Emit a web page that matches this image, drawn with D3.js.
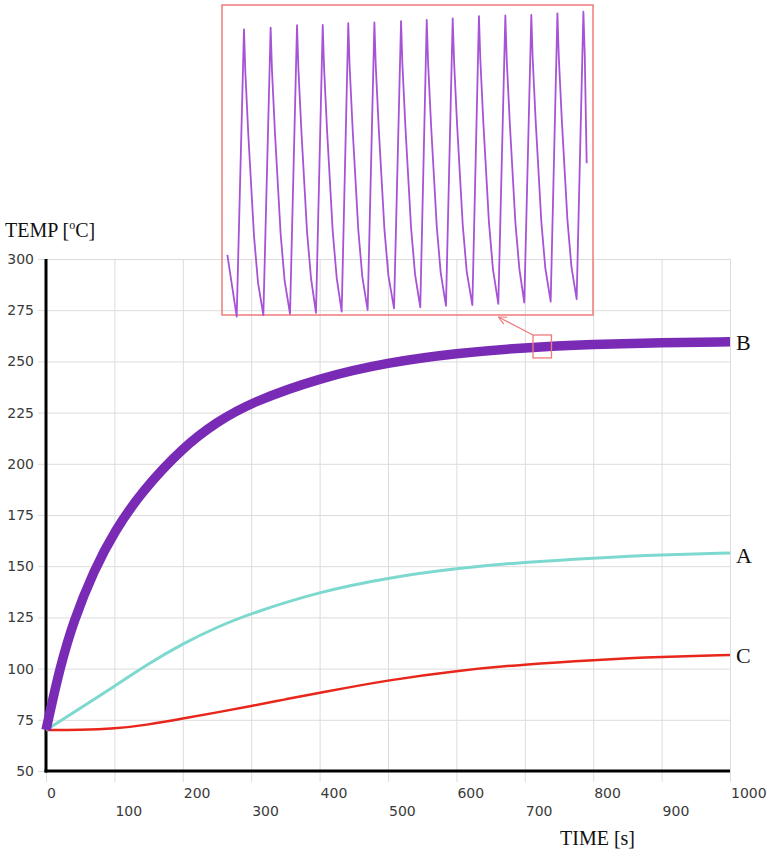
<!DOCTYPE html>
<html>
<head>
<meta charset="utf-8">
<script src="https://cdn.jsdelivr.net/npm/d3@7"></script>
<style>
  html, body { margin: 0; padding: 0; background: #fff; }
  svg { display: block; }
</style>
</head>
<body>
<svg id="chart" width="769" height="854"></svg>
<script>
// Heating curves: temperature [°C] against time [s]
const timeB = [0, 5, 20, 40, 70, 100, 140, 200, 250, 300, 400, 500, 600, 700, 800, 900, 1000];
const tempB = [70, 77.5, 100, 123, 148, 167, 186.5, 208, 220.5, 230, 242, 249.5, 254, 256.8, 258.3, 259.2, 259.6];

const timeA = [0, 50, 100, 150, 200, 250, 300, 400, 500, 600, 700, 800, 900, 1000];
const tempA = [70, 80.6, 91.4, 102.4, 112.2, 120.3, 127, 137.6, 144.4, 149, 152, 154, 155.6, 156.4];

const timeC = [0, 50, 100, 150, 200, 250, 300, 350, 400, 500, 600, 700, 800, 900, 1000];
const tempC = [70, 70, 70.6, 72.6, 75.6, 78.6, 81.7, 85, 88.2, 94.4, 99, 102.1, 104.2, 105.8, 106.6];

const seriesNames = ["A", "B", "C"];

// Magnified window on curve B: the on/off oscillation of the heater
const zoomTime = [712, 739];
const zoomTemp = [251.7, 262.9];
const insetTime = [
  712.39, 713.07,
  713.60, 713.70, 713.92, 714.33, 714.62, 715.01,
  715.54, 715.64, 715.86, 716.27, 716.56, 716.95,
  717.46, 717.56, 717.78, 718.19, 718.48, 718.84,
  719.33, 719.43, 719.65, 720.06, 720.35, 720.71,
  721.19, 721.29, 721.51, 721.92, 722.21, 722.60,
  723.09, 723.19, 723.41, 723.82, 724.11, 724.52,
  725.03, 725.13, 725.35, 725.76, 726.05, 726.43,
  726.90, 727.00, 727.22, 727.63, 727.92, 728.30,
  728.79, 728.89, 729.11, 729.52, 729.81, 730.22,
  730.70, 730.80, 731.02, 731.43, 731.72, 732.11,
  732.62, 732.72, 732.94, 733.35, 733.64, 734.00,
  734.51, 734.61, 734.83, 735.24, 735.53, 735.92,
  736.41, 736.51, 736.73, 737.14, 737.43, 737.81,
  738.30, 738.40, 738.54];
const insetTemp = [
  253.87, 251.64,
  262.02, 260.45, 258.17, 254.55, 252.87, 251.70,
  262.08, 260.51, 258.23, 254.61, 252.93, 251.74,
  262.17, 260.60, 258.32, 254.70, 253.02, 251.78,
  262.18, 260.61, 258.33, 254.71, 253.03, 251.82,
  262.24, 260.67, 258.39, 254.77, 253.09, 251.88,
  262.27, 260.70, 258.42, 254.80, 253.12, 251.94,
  262.32, 260.75, 258.47, 254.85, 253.17, 251.98,
  262.36, 260.79, 258.51, 254.89, 253.21, 252.03,
  262.42, 260.85, 258.57, 254.95, 253.27, 252.06,
  262.50, 260.93, 258.65, 255.03, 253.35, 252.10,
  262.52, 260.95, 258.67, 255.05, 253.37, 252.15,
  262.54, 260.97, 258.69, 255.07, 253.39, 252.18,
  262.60, 261.03, 258.75, 255.13, 253.45, 252.27,
  262.66, 261.09, 257.18];

const xTicks = [0, 100, 200, 300, 400, 500, 600, 700, 800, 900, 1000];
const yTicks = [50, 75, 100, 125, 150, 175, 200, 225, 250, 275, 300];

const svg = d3.select("#chart");

const x = d3.scaleLinear().domain([0, 1000]).range([46, 730]);
const y = d3.scaleLinear().domain([50, 300]).range([771, 259]);

const tickFont = "'DejaVu Sans', Verdana, sans-serif";
const serif = "'Liberation Serif', 'Times New Roman', serif";

// grid
const gridV = svg.append("g")
  .attr("transform", `translate(0,${y(50) + 11})`)
  .call(d3.axisBottom(x).tickValues(xTicks).tickSize(-(y(50) + 11 - y(300))).tickFormat(""));
const gridH = svg.append("g")
  .attr("transform", `translate(${x(0) - 8},0)`)
  .call(d3.axisLeft(y).tickValues(yTicks).tickSize(-(x(1000) - x(0) + 8)).tickFormat(""));
[gridV, gridH].forEach(g => {
  g.select(".domain").remove();
  g.selectAll("line").attr("stroke", "#dcdcdc").attr("stroke-width", 1);
});

// tick labels
svg.append("g").selectAll("text")
  .data(yTicks).join("text")
  .attr("x", 34).attr("y", d => y(d)).attr("dy", "0.36em")
  .attr("text-anchor", "end")
  .attr("font-family", tickFont).attr("font-size", 14).attr("fill", "#3a3a3a")
  .text(d => d);

svg.append("g").selectAll("text")
  .data(xTicks).join("text")
  .attr("x", d => x(d) + 1)
  .attr("y", (d, i) => i % 2 === 0 ? 798 : 816)
  .attr("text-anchor", "start")
  .attr("font-family", tickFont).attr("font-size", 14).attr("fill", "#3a3a3a")
  .text(d => d);

// axes
svg.append("line")
  .attr("x1", x(0)).attr("x2", x(0)).attr("y1", y(300)).attr("y2", y(50) + 1.5)
  .attr("stroke", "#000").attr("stroke-width", 3);
svg.append("line")
  .attr("x1", x(0) - 1.5).attr("x2", x(1000)).attr("y1", y(50)).attr("y2", y(50))
  .attr("stroke", "#000").attr("stroke-width", 3);

// axis titles
const yTitle = svg.append("text")
  .attr("x", 5).attr("y", 237)
  .attr("font-family", serif).attr("font-size", 20).attr("fill", "#111");
yTitle.append("tspan").text("TEMP [");
yTitle.append("tspan").attr("font-size", 12).attr("dy", -8).text("o");
yTitle.append("tspan").attr("dy", 8).text("C]");

svg.append("text")
  .attr("x", 560).attr("y", 845)
  .attr("font-family", serif).attr("font-size", 20).attr("fill", "#111")
  .text("TIME [s]");

// curves
const line = d3.line().x(d => x(d[0])).y(d => y(d[1])).curve(d3.curveBasis);
const zip = (a, b) => a.map((v, i) => [v, b[i]]);

const curves = [
  { name: "C", pts: zip(timeC, tempC), color: "#e8261b", width: 2.5 },
  { name: "A", pts: zip(timeA, tempA), color: "#7dd9cf", width: 3 },
  { name: "B", pts: zip(timeB, tempB), color: "#7a2bb6", width: 9.5 }
];

curves.forEach(c => {
  svg.append("path")
    .attr("d", line(c.pts))
    .attr("fill", "none")
    .attr("stroke", c.color)
    .attr("stroke-width", c.width)
    .attr("stroke-linejoin", "round");
});

// series labels at the line ends
const labelDy = { A: 10, B: 8, C: 8 };
curves.forEach(c => {
  const last = c.pts[c.pts.length - 1];
  svg.append("text")
    .attr("x", x(last[0]) + 6)
    .attr("y", y(last[1]) + labelDy[c.name])
    .attr("font-family", serif).attr("font-size", 22).attr("fill", "#111")
    .text(seriesNames[seriesNames.indexOf(c.name)]);
});

// magnified window marker on B
const boxColor = "#f07a7a";
svg.append("rect")
  .attr("x", x(zoomTime[0])).attr("y", y(zoomTemp[1]))
  .attr("width", x(zoomTime[1]) - x(zoomTime[0]))
  .attr("height", y(zoomTemp[0]) - y(zoomTemp[1]))
  .attr("fill", "none").attr("stroke", boxColor).attr("stroke-width", 1.3);

// inset
const ix = d3.scaleLinear().domain(zoomTime).range([222, 593]);
const iy = d3.scaleLinear().domain(zoomTemp).range([315, 5]);

svg.append("rect")
  .attr("x", ix(zoomTime[0])).attr("y", iy(zoomTemp[1]))
  .attr("width", ix(zoomTime[1]) - ix(zoomTime[0]))
  .attr("height", iy(zoomTemp[0]) - iy(zoomTemp[1]))
  .attr("fill", "none").attr("stroke", boxColor).attr("stroke-width", 1.5);

const insetLine = d3.line().x(d => ix(d[0])).y(d => iy(d[1]));
svg.append("path")
  .attr("d", insetLine(zip(insetTime, insetTemp)))
  .attr("fill", "none").attr("stroke", "#a753d8").attr("stroke-width", 1.8)
  .attr("stroke-linejoin", "round");

// arrow from the marker to the inset
const ax0 = x(zoomTime[0]), ay0 = y(zoomTemp[1]);
const ax1 = ix(zoomTime[0]) + 0.745 * (ix(zoomTime[1]) - ix(zoomTime[0]));
const ay1 = iy(zoomTemp[0]) + 2;
svg.append("line")
  .attr("x1", ax0).attr("y1", ay0).attr("x2", ax1).attr("y2", ay1)
  .attr("stroke", boxColor).attr("stroke-width", 1.2);
const ang = Math.atan2(ay0 - ay1, ax0 - ax1);
[0.45, -0.45].forEach(off => {
  svg.append("line")
    .attr("x1", ax1).attr("y1", ay1)
    .attr("x2", ax1 + 9 * Math.cos(ang + off))
    .attr("y2", ay1 + 9 * Math.sin(ang + off))
    .attr("stroke", boxColor).attr("stroke-width", 1.2);
});
</script>
</body>
</html>
